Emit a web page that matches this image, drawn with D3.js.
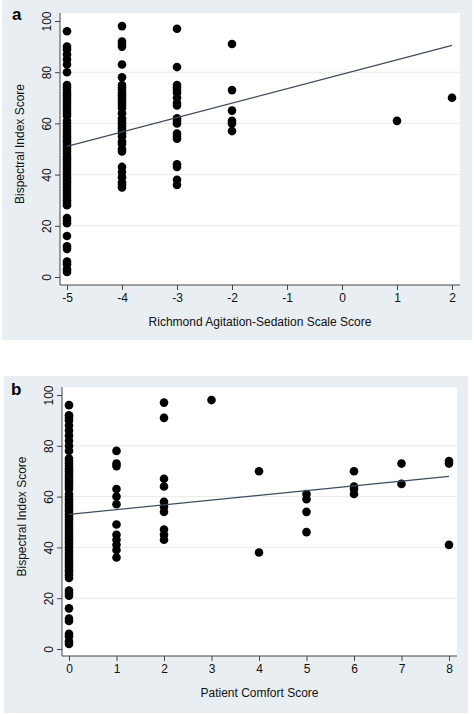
<!DOCTYPE html>
<html><head><meta charset="utf-8">
<script src="https://cdn.jsdelivr.net/npm/d3@7"></script>
<style>body{margin:0;background:#fff;font-family:"Liberation Sans",Arial,sans-serif}</style>
</head><body><div class="canva"></div>
<script>
// panel a: RASS score groups and BIS values
const rassScores = [-5, -4, -3, -2, 1, 2];
const rassBis = [
  [2,3,5,6,11,12,16,21,22,23,28,29,30,31,32,33,34,35,36,37,38,39,40,41,42,43,44,45,46,47,48,49,50,51,52,53,54,55,56,57,58,59,60,61,63,64,65,66,67,68,69,70,71,72,73,74,75,80,83,85,87,89,90,96],
  [35,36,37,39,41,43,49,50,52,53,55,56,57,58,59,60,61,62,64,66,67,68,69,70,71,72,73,74,75,78,83,90,91,92,98],
  [36,38,43,44,54,55,56,60,61,62,67,68,70,72,73,74,75,82,97],
  [57,60,61,65,73,91],
  [61],
  [70]
];
const rassFit = [51, 90.5]; // fitted BIS at x = -5 and x = 2
const rassTicks = [-5, -4, -3, -2, -1, 0, 1, 2];

// panel b: comfort score groups and BIS values
const comfortScores = [0, 1, 2, 3, 4, 5, 6, 7, 8];
const comfortBis = [
  [2,3,5,6,11,12,16,21,22,23,28,29,30,31,32,33,34,35,36,37,38,39,40,41,42,43,44,45,46,47,48,49,50,51,52,53,54,55,56,57,58,59,60,61,63,64,65,66,67,68,69,70,71,72,73,74,75,78,80,82,84,86,88,90,91,92,96],
  [36,39,41,43,45,49,57,60,63,72,73,78],
  [43,45,47,54,56,58,64,67,91,97],
  [98],
  [38,70],
  [46,54,59,61],
  [61,63,64,70],
  [65,73],
  [41,73,74]
];
const comfortFit = [53, 68];
const comfortTicks = [0, 1, 2, 3, 4, 5, 6, 7, 8];
const bisTicks = [0, 20, 40, 60, 80, 100];

const svg = d3.select(".canva").append("svg").attr("width", 474).attr("height", 715);

function panel(o) {
  svg.append("rect").attr("x", o.bx).attr("y", o.by).attr("width", o.bw).attr("height", o.bh).attr("fill", "#e9eef2");
  svg.append("rect").attr("x", o.left).attr("y", o.top).attr("width", o.right - o.left).attr("height", o.bottom - o.top).attr("fill", "#fff");

  const x = d3.scaleLinear().domain(o.xdom).range(o.xr);
  const y = d3.scaleLinear().domain([0, 100]).range(o.yr);
  const g = svg.append("g");

  g.selectAll(".grid").data(bisTicks.slice(1, -1)).enter().append("line")
    .attr("x1", o.left).attr("x2", o.right).attr("y1", d => y(d)).attr("y2", d => y(d))
    .attr("stroke", "#eaeaea").attr("stroke-width", 1);

  const yAxis = g.append("g").attr("transform", `translate(${o.left},0)`)
    .call(d3.axisLeft(y).tickValues(bisTicks).tickFormat(d => String(d)).tickSize(5).tickPadding(3));
  yAxis.select(".domain").attr("d", `M0,${o.top}V${o.bottom}`);
  yAxis.selectAll("text").attr("transform", "rotate(-90)").attr("x", 0).attr("y", -9)
    .attr("dy", "0").attr("text-anchor", "middle");

  const xAxis = g.append("g").attr("transform", `translate(0,${o.bottom})`)
    .call(d3.axisBottom(x).tickValues(o.ticks).tickFormat(d => String(d)).tickSize(5).tickPadding(3));
  xAxis.select(".domain").attr("d", `M${o.left},0H${o.right}`);
  g.selectAll(".tick text").attr("font-size", 12).attr("font-family", "Liberation Sans, Arial").attr("fill", "#111");
  g.selectAll(".domain,.tick line").attr("stroke", "#444");

  const pts = [];
  o.groups.forEach((vals, i) => vals.forEach(v => pts.push({x: o.scores[i], y: v})));
  g.selectAll("circle").data(pts).enter().append("circle")
    .attr("cx", d => x(d.x)).attr("cy", d => y(d.y)).attr("r", 4.3).attr("fill", "#000");

  g.append("line").attr("x1", x(o.xdom[0])).attr("x2", x(o.xdom[1]))
    .attr("y1", y(o.fit[0])).attr("y2", y(o.fit[1]))
    .attr("stroke", "#3d4a5c").attr("stroke-width", 1.2);

  svg.append("text").attr("x", (o.left + o.right) / 2).attr("y", o.xlabY).attr("text-anchor", "middle")
    .attr("font-size", 12).attr("fill", "#111").text(o.xlabel);
  svg.append("text").attr("transform", `translate(${o.ylabX},${(o.top + o.bottom) / 2 - 5}) rotate(-90)`)
    .attr("text-anchor", "middle").attr("font-size", 12).attr("fill", "#111").text("Bispectral Index Score");
  svg.append("text").attr("x", o.tagX).attr("y", o.tagY).attr("font-size", 17).attr("font-weight", "bold").text(o.tag);
}

panel({bx: 2, by: 0, bw: 470, bh: 340, left: 60, right: 460, top: 13, bottom: 285,
  xdom: [-5, 2], xr: [67, 452], yr: [277, 21], ticks: rassTicks, scores: rassScores,
  groups: rassBis, fit: rassFit, xlabel: "Richmond Agitation-Sedation Scale Score",
  xlabY: 326, ylabX: 24, tag: "a", tagX: 12, tagY: 20});

panel({bx: 4, by: 376, bw: 464, bh: 337, left: 62, right: 457, top: 387, bottom: 656,
  xdom: [0, 8], xr: [69, 449], yr: [649, 395], ticks: comfortTicks, scores: comfortScores,
  groups: comfortBis, fit: comfortFit, xlabel: "Patient Comfort Score",
  xlabY: 697, ylabX: 26, tag: "b", tagX: 11, tagY: 395});
</script></body></html>
